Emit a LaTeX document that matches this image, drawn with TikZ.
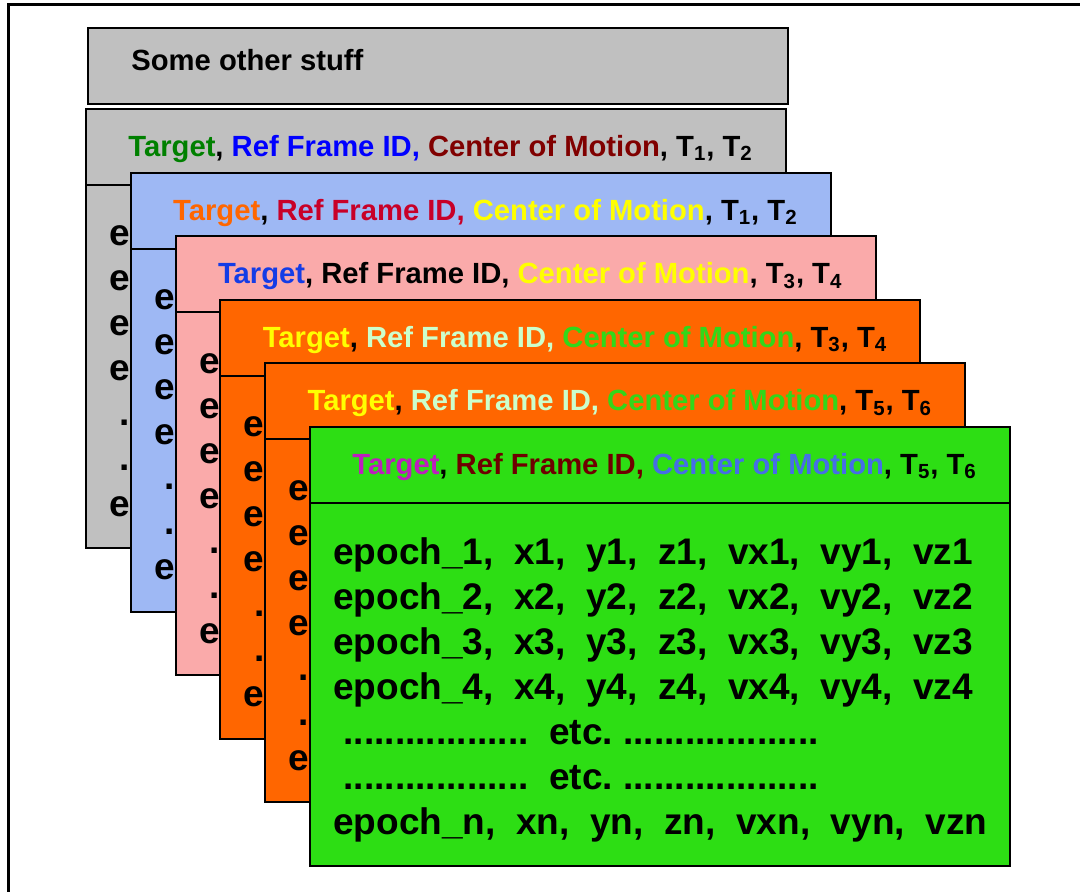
\documentclass[tikz,border=0pt]{standalone}
\usepackage{fontspec}
\setmainfont{Liberation Sans}

\definecolor{boxgray}{RGB}{192,192,192}
\definecolor{boxblue}{RGB}{158,184,244}
\definecolor{boxpink}{RGB}{250,170,170}
\definecolor{boxorange}{RGB}{255,102,0}
\definecolor{boxgreen}{RGB}{45,222,20}
\definecolor{tgreen}{RGB}{0,128,0}
\definecolor{tblue}{RGB}{0,0,255}
\definecolor{tmaroon}{RGB}{128,0,0}
\definecolor{torange}{RGB}{255,102,0}
\definecolor{tcrimson}{RGB}{200,0,40}
\definecolor{tyellow}{RGB}{255,255,0}
\definecolor{troyal}{RGB}{20,60,230}
\definecolor{tmint}{RGB}{204,255,204}
\definecolor{tlime}{RGB}{50,215,25}
\definecolor{tmagenta}{RGB}{190,30,190}
\definecolor{tbrown}{RGB}{110,0,0}
\definecolor{tsky}{RGB}{70,110,230}

\begin{document}
\begin{tikzpicture}[
    x=0.5pt, y=-0.5pt,
    card/.style={draw, line width=1pt},
    head/.style={anchor=west, inner sep=0pt, font=\fontsize{14.6}{17}\selectfont\bfseries},
    row/.style={anchor=base west, inner sep=0pt, font=\fontsize{18.5}{22}\selectfont\bfseries},
]
\useasboundingbox (0,0) rectangle (1080,892);
\clip (0,0) rectangle (1080,892);

\draw[line width=1.5pt] (8,5) rectangle (1120,930);

\draw[card, fill=boxgray] (88,28) rectangle (788,104);
\node[head] (other) at (131,60) {Some other stuff};

\foreach \k/\bg/\ca/\cb/\cc/\ta/\tb in {
    0/boxgray/tgreen/tblue/tmaroon/1/2,
    1/boxblue/torange/tcrimson/tyellow/1/2,
    2/boxpink/troyal/black/tyellow/3/4,
    3/boxorange/tyellow/tmint/tlime/3/4,
    4/boxorange/tyellow/tmint/tlime/5/6,
    5/boxgreen/tmagenta/tbrown/tsky/5/6}{
  \pgfmathsetmacro{\lx}{86+44.8*\k}
  \pgfmathsetmacro{\ty}{109+63.6*\k}
  % body, then header strip
  \draw[card, fill=\bg] (\lx,\ty+76) rectangle (\lx+700,\ty+439);
  \draw[card, fill=\bg] (\lx,\ty) rectangle (\lx+700,\ty+76);
  \node[head] (hdr\k) at (\lx+42,\ty+40)
    {\textcolor{\ca}{Target}, \textcolor{\cb}{Ref Frame ID,} \textcolor{\cc}{Center of Motion}, T\textsubscript{\ta}, T\textsubscript{\tb}};
  \ifnum\k<5
    % only the first letters show behind the next card
    \foreach \r in {0,1,2,3,6}
      \node[row] (row\k-\r) at (\lx+23,\ty+137+45*\r) {e};
    \foreach \r in {4,5}
      \node[row] (row\k-\r) at (\lx+23,\ty+137+45*\r) {\ .};
  \else
    \foreach \r/\n in {0/1,1/2,2/3,3/4,6/n}
      \node[row] (row\k-\r) at (\lx+23,\ty+137+45*\r)
        {epoch\_\n,~~x\n,~~y\n,~~z\n,~~vx\n,~~vy\n,~~vz\n};
    \foreach \r in {4,5}
      \node[row] (row\k-\r) at (\lx+23,\ty+137+45*\r)
        {\ ..................~~etc.\ ...................};
  \fi
}

\end{tikzpicture}
\end{document}
